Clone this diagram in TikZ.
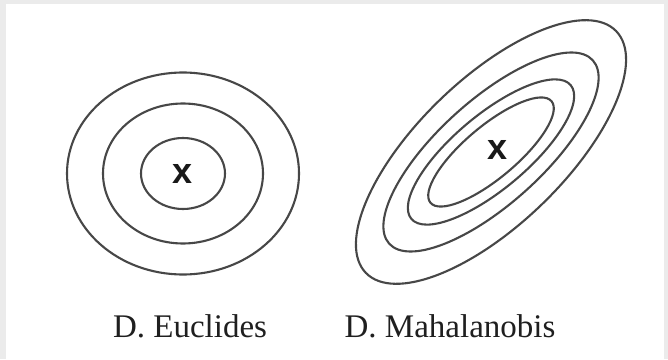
\documentclass[tikz,border=0pt]{standalone}
\usepackage{fontspec}
\setmainfont{Liberation Serif}
\newfontfamily\crossfont{Liberation Sans}
\usetikzlibrary{positioning}

\begin{document}
\begin{tikzpicture}[x=1pt, y=1pt,
    contour/.style={draw=black!72, line width=2.1pt},
    centermark/.style={font=\crossfont\fontsize{36}{36}\selectfont\bfseries, text=black!90, inner sep=0pt},
    caption/.style={font=\fontsize{33}{36}\selectfont, text=black!88, anchor=base, inner sep=0pt}
]

% frame
\fill[black!8] (0,0) rectangle (668,359);
\fill[white] (6,0) rectangle (664,355);
\useasboundingbox (0,0) rectangle (668,359);

% Euclidean contours
\foreach \rx/\ry in {116/101, 80/70, 42/35.5} {
    \draw[contour] (183,185.5) ellipse [x radius=\rx, y radius=\ry];
}
\node[centermark] (eucx) at (183,185) {x};

% Mahalanobis contours
\foreach \a/\b/\ang in {174/73/44, 137/52/42, 104/37/40, 79/26/40} {
    \draw[contour, rotate around={\ang:(491,207)}] (491,207) ellipse [x radius=\a, y radius=\b];
}
\node[centermark] (mahx) at (498,209) {x};

% labels
\node[caption] (euclabel) at (190,22) {D. Euclides};
\node[caption] (mahlabel) at (450,22) {D. Mahalanobis};

\end{tikzpicture}
\end{document}
